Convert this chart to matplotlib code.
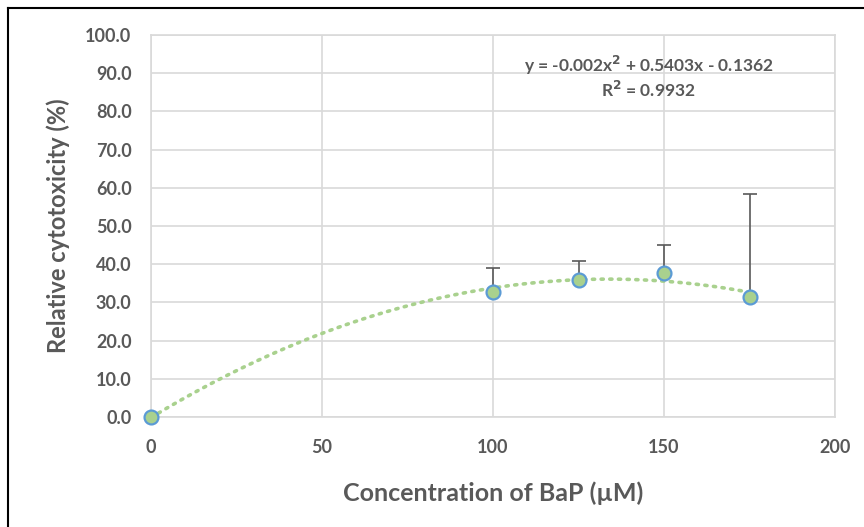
import numpy as np
import matplotlib
matplotlib.use("Agg")
import matplotlib.pyplot as plt
from matplotlib.lines import Line2D

# data
conc = [0, 100, 125, 150, 175]
cytotox = [0.0, 32.8, 35.9, 37.6, 31.5]
err_up = [0.0, 6.3, 4.9, 7.5, 27.0]
x_ticks = [0, 50, 100, 150, 200]
y_ticks = [0, 10, 20, 30, 40, 50, 60, 70, 80, 90, 100]
eq_text = "y = -0.002x$^2$ + 0.5403x - 0.1362"
r2_text = "R$^2$ = 0.9932"

grey = "#595959"
plt.rcParams['font.family'] = ['Lato', 'DejaVu Sans']
plt.rcParams['mathtext.default'] = 'bf'

fig = plt.figure(figsize=(8.64, 5.27), dpi=100)
ax = fig.add_axes([151 / 864, 1 - 417 / 527, 684 / 864, 382 / 527])

# quadratic trendline
coef = np.polyfit(conc, cytotox, 2)
xs = np.linspace(0, 175, 200)
ax.plot(xs, np.polyval(coef, xs), color="#a9d18e", lw=2.6, ls=(0, (0.6, 1.8)),
        dash_capstyle="round", zorder=2)

# error bars (upper only)
ax.errorbar(conc[1:], cytotox[1:], yerr=[np.zeros(4), err_up[1:]], fmt="none",
            ecolor=grey, elinewidth=1.2, capsize=5, capthick=1.2, zorder=3)
ax.plot(conc, cytotox, "o", ms=10, mfc="#a9d18e", mec="#5b9bd5", mew=1.6,
        clip_on=False, zorder=4)

ax.set_xlim(0, 200)
ax.set_ylim(0, 100)
ax.set_xticks(x_ticks)
ax.set_yticks(y_ticks)
ax.set_yticklabels(["%.1f" % v for v in y_ticks])
ax.grid(True, color="#d9d9d9", lw=1.2)
ax.set_axisbelow(True)
for s in ax.spines.values():
    s.set_color("#d9d9d9")
    s.set_linewidth(1.2)
ax.tick_params(length=0, labelsize=13, labelcolor=grey)
ax.tick_params(axis="x", pad=16)
ax.tick_params(axis="y", pad=14)
for lab in ax.get_xticklabels() + ax.get_yticklabels():
    lab.set_fontweight("bold")

ax.set_xlabel("Concentration of BaP (µM)", fontsize=18, fontweight="bold",
              color=grey, labelpad=18)
ax.set_ylabel("Relative cytotoxicity (%)", fontsize=17, fontweight="bold",
              color=grey, labelpad=11)

ax.text(145.5, 92, eq_text, ha="center", va="center", fontsize=12.5,
        fontweight="bold", color=grey)
ax.text(145.5, 85.6, r2_text, ha="center", va="center", fontsize=12.5,
        fontweight="bold", color=grey)

# outer border (left and top, cropped)
fig.add_artist(Line2D([8 / 864, 8 / 864], [0, 1 - 8 / 527], color="black", lw=1.5))
fig.add_artist(Line2D([8 / 864, 1], [1 - 8 / 527, 1 - 8 / 527], color="black", lw=1.5))

fig.savefig("out.png", dpi=100)
